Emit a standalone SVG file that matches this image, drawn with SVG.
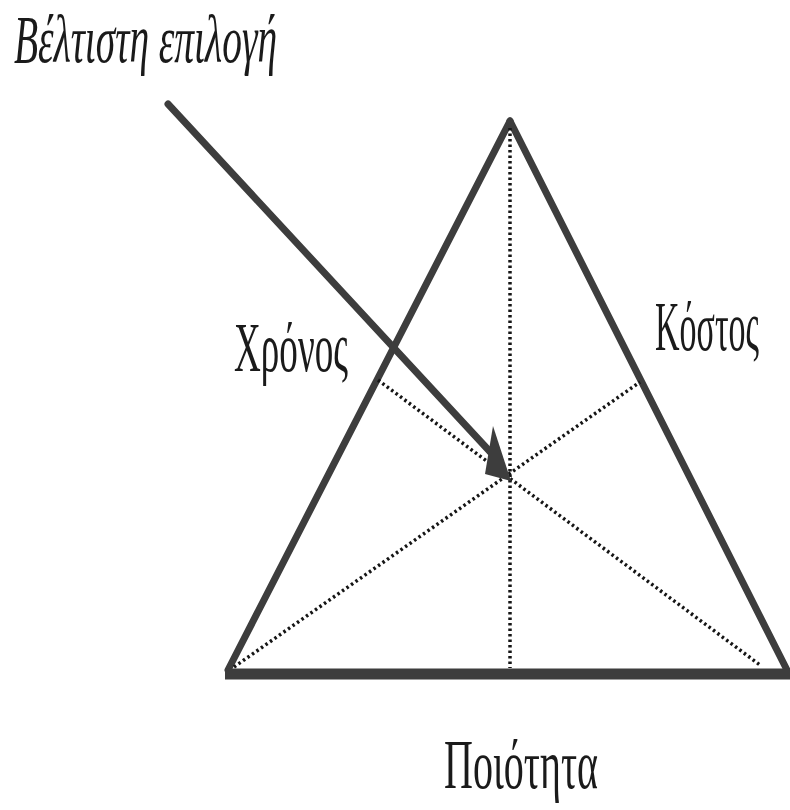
<svg xmlns="http://www.w3.org/2000/svg" width="790" height="810" viewBox="0 0 790 810">
<style>
.lbl{font-family:"Liberation Serif","DejaVu Serif",serif;fill:#1a1a1a;}
.edge{stroke:#3d3d3d;fill:none;stroke-linecap:round;}
.dot{stroke:#151515;stroke-width:3.5;stroke-dasharray:2.5 3;fill:none;}
</style>
<rect width="790" height="810" fill="#ffffff"/>
<g id="triangle">
<line class="edge" x1="228" y1="670" x2="510" y2="121" stroke-width="7"/>
<line class="edge" x1="510" y1="121" x2="788" y2="672" stroke-width="7"/>
<line x1="225" y1="674" x2="790" y2="674" stroke="#3d3d3d" stroke-width="11"/>
</g>
<g id="connectors">
<line class="dot" x1="510" y1="128" x2="510" y2="668"/>
<line class="dot" x1="234" y1="667" x2="640" y2="382"/>
<line class="dot" x1="378" y1="380" x2="760" y2="665"/>
<line x1="168" y1="104" x2="494" y2="456" stroke="#3d3d3d" stroke-width="7" stroke-linecap="round"/>
<polygon points="511,481 485,474 493,426" fill="#3d3d3d"/>
</g>
<g id="label-best">
<text class="lbl" x="14" y="62" font-size="68" font-style="italic" textLength="263" lengthAdjust="spacingAndGlyphs">Βέλτιστη επιλογή</text>
</g>
<g id="label-time">
<text class="lbl" x="234" y="371" font-size="70" textLength="114" lengthAdjust="spacingAndGlyphs">Χρόνος</text>
</g>
<g id="label-cost">
<text class="lbl" x="655" y="350" font-size="70" textLength="104" lengthAdjust="spacingAndGlyphs">Κόστος</text>
</g>
<g id="label-quality">
<text class="lbl" x="444" y="788" font-size="70" textLength="154" lengthAdjust="spacingAndGlyphs">Ποιότητα</text>
</g>
</svg>
